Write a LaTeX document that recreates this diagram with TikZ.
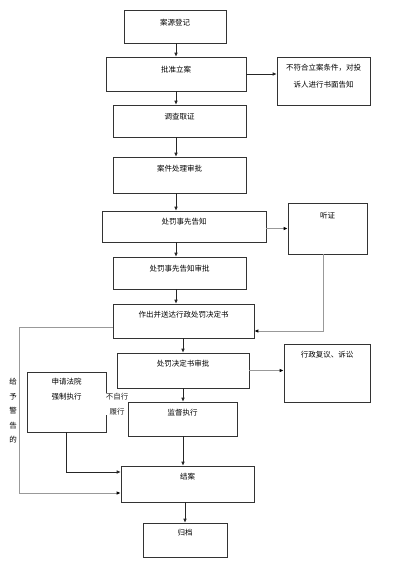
\documentclass[tikz,border=0pt]{standalone}
\usepackage{fontspec}
\setmainfont{Noto Sans CJK SC}
\usepackage{tikz}
\usetikzlibrary{
  arrows.meta,
  positioning
}

\begin{document}
\begin{tikzpicture}[x=1pt, y=-1pt,
  box/.style={draw=black!80, line width=0.6pt, inner sep=0},
  txt/.style={inner sep=1pt, align=center, font=\fontsize{7.5pt}{15pt}\selectfont},
  arr/.style={-{Latex[length=4pt,width=3.5pt]}, black!85, line width=0.6pt},
  garr/.style={-{Latex[length=4pt,width=3.5pt,black]}, gray!80, line width=0.8pt}
]
  \useasboundingbox (0,0) rectangle (398,568);

  % Filing
  \node[box, minimum width=102pt, minimum height=33pt] (reg) at (175,26.5) {};
  \node[txt, below=8pt of reg.north] (reg-t) {案源登记};
  \node[box, minimum width=140pt, minimum height=34pt] (appr) at (176,74) {};
  \node[txt, below=8pt of appr.north] (appr-t) {批准立案};
  \node[box, minimum width=93pt, minimum height=48pt] (notice) at (323.5,81) {};
  \node[txt, below=6pt of notice.north, font=\fontsize{7.5pt}{17pt}\selectfont] (notice-t) {不符合立案条件，对投\\诉人进行书面告知};

  % Investigation
  \node[box, minimum width=133pt, minimum height=32pt] (inv) at (179.5,121) {};
  \node[txt, below=7pt of inv.north] (inv-t) {调查取证};
  \node[box, minimum width=133pt, minimum height=36pt] (rev) at (179.5,175) {};
  \node[txt, below=7pt of rev.north] (rev-t) {案件处理审批};

  % Prior notice and hearing
  \node[box, minimum width=164pt, minimum height=31pt] (prior) at (184,226.5) {};
  \node[txt, below=6pt of prior.north] (prior-t) {处罚事先告知};
  \node[box, minimum width=79pt, minimum height=51pt] (hear) at (327.5,228.5) {};
  \node[txt, below=8pt of hear.north] (hear-t) {听证};
  \node[box, minimum width=133pt, minimum height=32pt] (pappr) at (179.5,273) {};
  \node[txt, below=7pt of pappr.north] (pappr-t) {处罚事先告知审批};

  % Decision
  \node[box, minimum width=141pt, minimum height=34pt] (decide) at (183.5,321) {};
  \node[txt, below=6pt of decide.north] (decide-t) {作出并送达行政处罚决定书};
  \node[box, minimum width=132pt, minimum height=35pt] (dappr) at (183,370.5) {};
  \node[txt, below=6pt of dappr.north] (dappr-t) {处罚决定书审批};
  \node[box, minimum width=86pt, minimum height=58pt] (recon) at (327,373) {};
  \node[txt, below=6pt of recon.north] (recon-t) {行政复议、诉讼};

  % Enforcement
  \node[box, minimum width=79pt, minimum height=60pt] (court) at (66.5,402) {};
  \node[txt, below=5pt of court.north] (court-t) {申请法院\\强制执行};
  \node[box, minimum width=109pt, minimum height=34pt] (sup) at (182.5,419) {};
  \node[txt, below=6pt of sup.north] (sup-t) {监督执行};

  % Closing
  \node[box, minimum width=133pt, minimum height=36pt] (close) at (187.5,484) {};
  \node[txt, below=6pt of close.north] (close-t) {结案};
  \node[box, minimum width=84pt, minimum height=34pt] (arch) at (185,540) {};
  \node[txt, below=5pt of arch.north] (arch-t) {归档};

  \node[txt, font=\fontsize{7.5pt}{14.5pt}\selectfont] (warn) at (13,411) {给\\予\\警\\告\\的};

  % Connections
  \draw[arr] (reg.south -| appr) -- (appr.north);
  \draw[arr] (appr.east) -- (appr.east -| notice.west);
  \draw[arr] (appr.south) -- (appr.south |- inv.north);
  \draw[arr] (inv.south -| appr) -- (rev.north -| appr);
  \draw[arr] (rev.south -| appr) -- (prior.north -| appr);
  \draw[garr] ([yshift=-2pt]prior.east) -- ([yshift=-2pt]prior.east -| hear.west);
  \draw[arr] (prior.south -| appr) -- (pappr.north -| appr);
  \draw[arr] (pappr.south -| appr) -- (decide.north -| appr);
  \draw[garr] ([xshift=-4pt]hear.south) |- ([yshift=-10pt]decide.east);
  \draw[arr] (decide.south -| dappr) -- (dappr.north);
  \draw[garr] (dappr.east) -- (dappr.east -| recon.west);
  \draw[arr] (dappr.south) -- (sup.north -| dappr);
  \draw[arr] ([yshift=8pt]sup.west) -- ([yshift=8pt]sup.west -| court.east)
    node[txt, midway, yshift=7pt, inner sep=0pt, fill=white] (nolabel) {不自行\\履行};
  \draw[arr] (sup.south -| dappr) -- (close.north -| dappr);
  \draw[arr] (close.south -| arch) -- (arch.north);
  \draw[garr] ([yshift=-6pt]decide.west) -- ++(-93,0) |- ([yshift=-9pt]close.west);
  \draw[arr] (court.south) |- ([yshift=12pt]close.west);
\end{tikzpicture}
\end{document}
